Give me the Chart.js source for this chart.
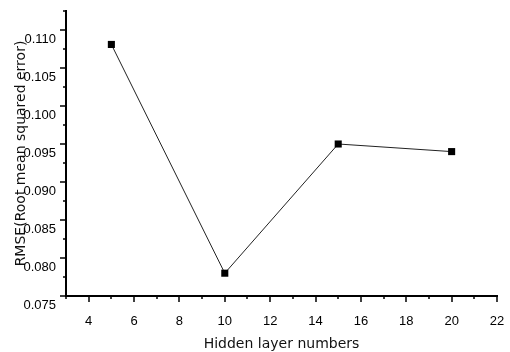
<!DOCTYPE html>
<html>
<head>
<meta charset="utf-8">
<title>RMSE vs hidden layer numbers</title>
<script src="https://cdn.jsdelivr.net/npm/chart.js@4.4.1/dist/chart.umd.min.js"></script>
<style>
  html, body { margin: 0; padding: 0; background: #fff; }
  canvas { display: block; }
</style>
</head>
<body>
<canvas id="rmseChart" width="510" height="352"></canvas>
<script>
// Hidden layer sizes that were tried and the RMSE each one gave
const hiddenLayers = [5, 10, 15, 20];
const rmseValues = [0.1081, 0.0780, 0.0950, 0.0940];

// Axis ranges and tick steps (minor ticks sit halfway between labels)
const xRange = [3, 22];
const xStep = 1;
const yRange = [0.075, 0.1125];
const yStep = 0.0025;

const xTitle = 'Hidden layer numbers';
const yTitle = 'RMSE(Root mean squared error)';

const tickFont = { family: '"Liberation Sans", Arial, sans-serif', size: 13 };
const titleFont = { family: '"DejaVu Sans", sans-serif', size: 14 };

// Outward tick marks: long ones where a label is shown, short ones between
const tickMarksPlugin = {
  id: 'tickMarks',
  afterDraw: function(chart) {
    const ctx = chart.ctx;
    const xScale = chart.scales.x;
    const yScale = chart.scales.y;
    const area = chart.chartArea;
    ctx.save();
    ctx.strokeStyle = '#000';
    ctx.lineWidth = 1.5;
    ctx.beginPath();
    xScale.ticks.forEach(function(t) {
      const x = Math.round(xScale.getPixelForValue(t.value));
      const len = t.label !== '' ? 6 : 3;
      ctx.moveTo(x, area.bottom);
      ctx.lineTo(x, area.bottom + len);
    });
    yScale.ticks.forEach(function(t) {
      const y = Math.round(yScale.getPixelForValue(t.value));
      const len = t.label !== '' ? 6 : 3;
      ctx.moveTo(area.left, y);
      ctx.lineTo(area.left - len, y);
    });
    ctx.stroke();
    ctx.restore();
  }
};

new Chart(document.getElementById('rmseChart').getContext('2d'), {
  type: 'line',
  data: {
    datasets: [{
      data: hiddenLayers.map(function(x, i) { return { x: x, y: rmseValues[i] }; }),
      borderColor: '#222',
      borderWidth: 1,
      tension: 0,
      pointStyle: 'rect',
      pointRadius: 5,
      pointBorderWidth: 0,
      pointBackgroundColor: '#000'
    }]
  },
  options: {
    responsive: false,
    animation: false,
    layout: { padding: { top: 11, right: 13, left: 0, bottom: 0 } },
    plugins: { legend: { display: false }, tooltip: { enabled: false } },
    scales: {
      x: {
        type: 'linear',
        min: xRange[0],
        max: xRange[1],
        grid: { display: false, drawTicks: false },
        border: { display: true, color: '#000', width: 2 },
        ticks: {
          stepSize: xStep,
          autoSkip: false,
          maxRotation: 0,
          padding: 18,
          color: '#000',
          font: tickFont,
          callback: function(value) { return value % 2 === 0 ? String(value) : ''; }
        },
        title: { display: true, text: xTitle, color: '#111', font: titleFont, padding: { top: 0, bottom: -1 } },
        afterFit: function(scale) {
          scale.height = 56;
          scale.paddingLeft = 0;
          scale.paddingRight = 0;
        }
      },
      y: {
        type: 'linear',
        min: yRange[0],
        max: yRange[1],
        grid: { display: false, drawTicks: false },
        border: { display: true, color: '#000', width: 2 },
        ticks: {
          stepSize: yStep,
          autoSkip: false,
          padding: 10,
          labelOffset: 9.5,
          color: '#000',
          font: tickFont,
          callback: function(value) {
            return Math.round(value * 1000) % 5 === 0 ? value.toFixed(3) : '';
          }
        },
        title: { display: true, text: yTitle, color: '#111', font: titleFont, padding: { top: 13, bottom: 0 } },
        afterFit: function(scale) {
          scale.width = 66;
          scale.paddingTop = 0;
          scale.paddingBottom = 0;
        }
      }
    }
  },
  plugins: [tickMarksPlugin]
});
</script>
</body>
</html>
